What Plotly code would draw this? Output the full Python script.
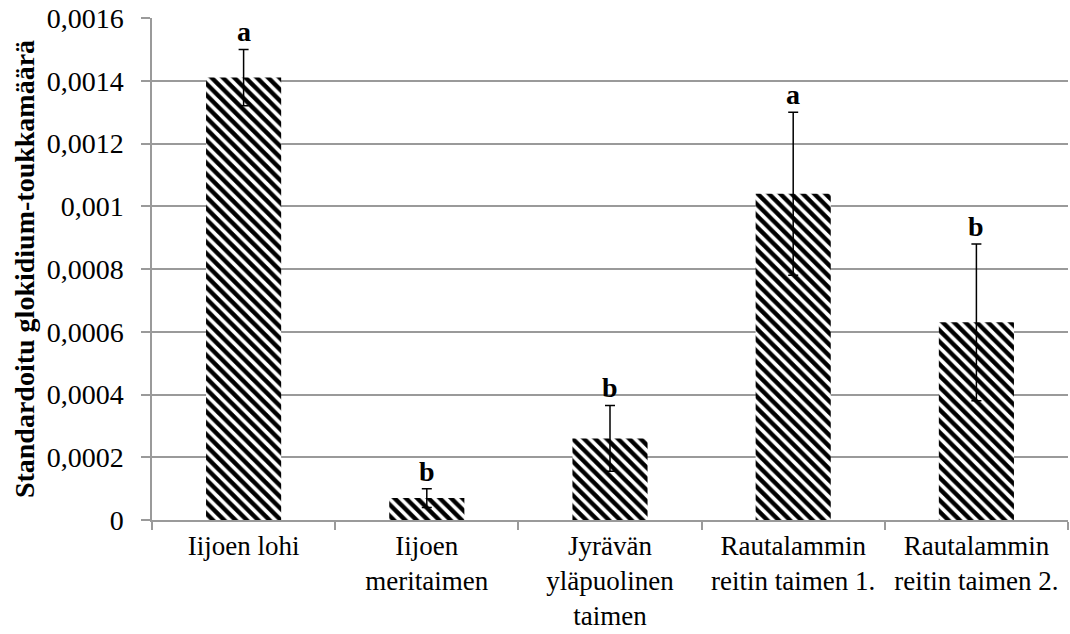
import plotly.graph_objects as go

# Groups and standardized glochidium larvae counts (mean ± error)
categories = [
    "Iijoen lohi",
    "Iijoen<br>meritaimen",
    "Jyrävän<br>yläpuolinen<br>taimen",
    "Rautalammin<br>reitin taimen 1.",
    "Rautalammin<br>reitin taimen 2.",
]
means = [0.00141, 0.00007, 0.00026, 0.00104, 0.00063]
errors = [0.00009, 0.00003, 0.000105, 0.00026, 0.00025]
letters = ["a", "b", "b", "a", "b"]

tick_values = [0, 0.0002, 0.0004, 0.0006, 0.0008, 0.001, 0.0012, 0.0014, 0.0016]
tick_labels = ["0", "0,0002", "0,0004", "0,0006", "0,0008", "0,001", "0,0012", "0,0014", "0,0016"]

FONT = "Times New Roman, Liberation Serif, Tinos, serif"
SIZE = 28
GRID = "#9a9a9a"

fig = go.Figure()
fig.add_trace(go.Bar(
    x=categories,
    y=means,
    width=0.41,
    marker=dict(
        color="white",
        line=dict(width=0),
        pattern=dict(shape="\\", fgcolor="black", bgcolor="white", fgopacity=1,
                     size=8, solidity=0.55),
    ),
    error_y=dict(type="data", array=errors, visible=True, color="black", thickness=1.5, width=5),
    showlegend=False,
))

# Significance letters above each error bar
for cat, m, e, letter in zip(categories, means, errors, letters):
    fig.add_annotation(
        x=cat, y=m + e, text=f"<b>{letter}</b>", showarrow=False,
        yanchor="bottom", yshift=0,
        font=dict(family=FONT, size=SIZE, color="black"),
    )

fig.update_layout(
    width=1070, height=634,
    margin=dict(l=152, r=2, t=18, b=114),
    plot_bgcolor="white", paper_bgcolor="white",
    font=dict(family=FONT, size=SIZE, color="black"),
    bargap=0.59,
)
fig.update_xaxes(
    showline=True, linecolor=GRID, linewidth=1.5,
    ticks="outside", tickson="boundaries", ticklen=8, tickcolor=GRID, tickwidth=1.5,
    tickfont=dict(family=FONT, size=27, color="black"),
    ticklabelstandoff=1,
    showgrid=False,
    automargin=False,
)
fig.update_yaxes(
    range=[0, 0.0016],
    tickvals=tick_values, ticktext=tick_labels,
    showline=True, linecolor=GRID, linewidth=1.5,
    ticks="outside", ticklen=9, tickcolor=GRID, tickwidth=1.5,
    ticklabelstandoff=12,
    showgrid=True, gridcolor=GRID, gridwidth=1.5,
    zeroline=False,
    automargin=False,
    tickfont=dict(family=FONT, size=SIZE, color="black"),
    title=dict(text="<b>Standardoitu glokidium-toukkamäärä</b>",
               font=dict(family=FONT, size=SIZE, color="black"), standoff=4),
)

fig.write_html("out.html")
